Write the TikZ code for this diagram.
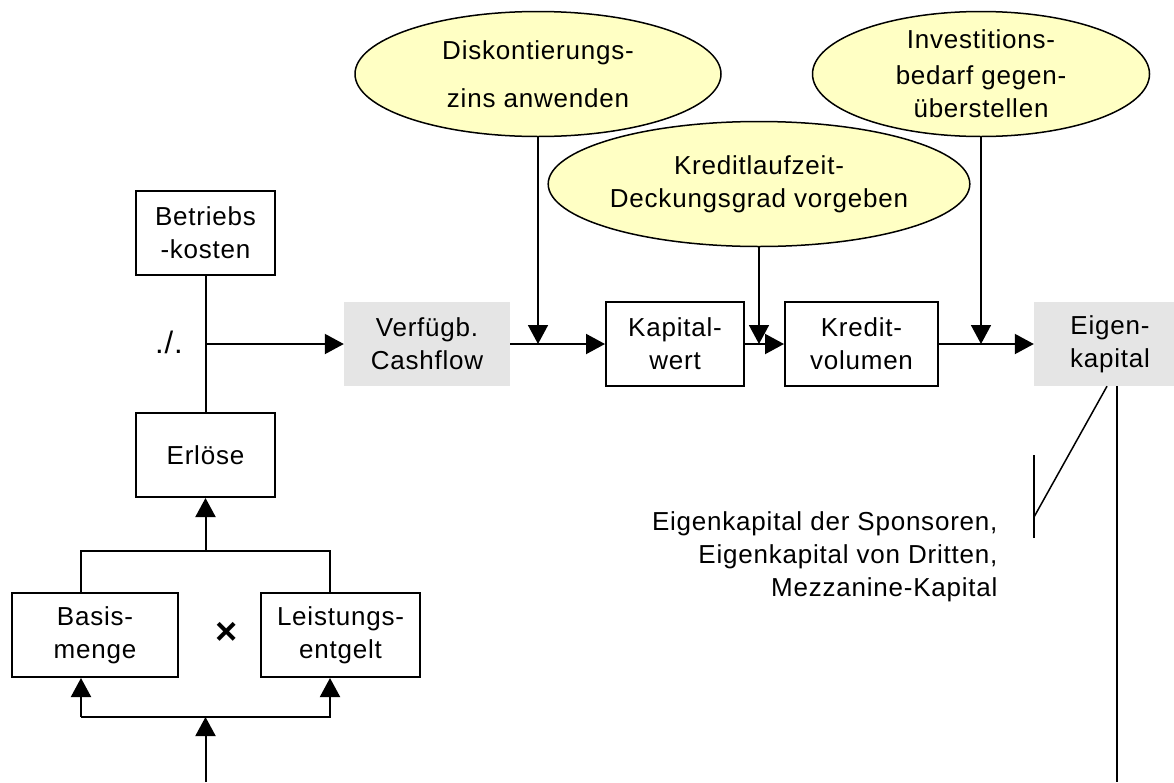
\documentclass[tikz,border=0pt]{standalone}
\usepackage{fontspec}
\setmainfont[LetterSpace=3]{Liberation Sans}
\usetikzlibrary{shapes.geometric,arrows.meta}
\definecolor{paleyellow}{HTML}{FFFFC4}

\begin{document}
\begin{tikzpicture}[x=1pt,y=-1pt,
    font=\fontsize{26}{33}\selectfont,
    box/.style={draw,line width=2pt,align=center,inner sep=0pt,minimum height=84pt},
    graybox/.style={fill=gray!20,align=center,inner sep=0pt,minimum height=84pt},
    oval/.style={ellipse,draw,line width=1.5pt,fill=paleyellow,align=center,inner sep=0pt,minimum height=125pt},
    arr/.style={line width=2pt,-{Triangle[length=19pt,width=20pt]}},
    thinarr/.style={line width=1.6pt,-{Triangle[length=19pt,width=20pt]}}]
    \useasboundingbox (0,0) rectangle (1174,782);
    \clip (0,0) rectangle (1174,782);
    % Define the boxes of the left column
    \node[box,minimum width=139pt] (kosten) at (205.5,233) {Betriebs\\-kosten};
    \node[box,minimum width=139pt] (erloese) at (205.5,455) {Erlöse};
    \node[box,minimum width=166pt] (basis) at (95,635) {Basis-\\menge};
    \node[box,minimum width=159pt] (entgelt) at (340.5,635) {Leistungs-\\entgelt};
    \node[font=\fontsize{38}{38}\selectfont\bfseries] (mal) at (227,633) {×};
    \node[font=\fontsize{31}{31}\selectfont] (minus) at (169,342) {./.};
    % Define the boxes of the main row
    \node[graybox,minimum width=166pt] (cashflow) at (427,344) {Verfügb.\\Cashflow};
    \node[box,minimum width=138pt] (kapwert) at (675,344) {Kapital-\\wert};
    \node[box,minimum width=153pt] (kredit) at (861.5,344) {Kredit-\\volumen};
    \node[graybox,minimum width=152pt] (eigen) at (1110,344) {Eigen-\\kapital};
    % Define the ovals
    \node[oval,minimum width=366pt] (zins) at (538,74) {Diskontierungs-\\[15pt]zins anwenden};
    \node[oval,minimum width=337pt] (laufzeit) at (759,184) {Kreditlaufzeit-\\Deckungsgrad vorgeben};
    \node[oval,minimum width=337pt] (bedarf) at (981,74) {\raisebox{3pt}{Investitions-}\\bedarf gegen-\\überstellen};
    \node[align=right,anchor=east] (quellen) at (1001,557) {Eigenkapital der Sponsoren,\\Eigenkapital von Dritten,\\Mezzanine-Kapital};
    % Define the helper points
    \coordinate (bl) at (81,551);
    \coordinate (br) at (330,551);
    \coordinate (ul) at (81,717);
    \coordinate (ur) at (330,717);
    \coordinate (ein) at (205.5,782);
    \coordinate (aus) at (1117,782);
    \coordinate (klammer) at (1034,517);
    % Draw the left column
    \draw[line width=2pt] (kosten) -- (erloese);
    \draw[arr] (kosten.south |- cashflow.west) -- (cashflow.west);
    \draw[line width=2pt] (bl |- basis.north) -- (bl) -- (br) -- (br |- entgelt.north);
    \draw[arr] (erloese.south |- bl) -- (erloese.south);
    \draw[arr] (ul) -- (ul |- basis.south);
    \draw[arr] (ul) -- (ur) -- (ur |- entgelt.south);
    \draw[arr] (ein) -- (ein |- ul);
    % Draw the main row
    \draw[arr] (cashflow.east) -- (kapwert.west);
    \draw[arr] (kapwert.east) -- (kredit.west);
    \draw[arr] (kredit.east) -- (eigen.west);
    \draw[thinarr] (zins.south) -- (zins.south |- cashflow.east);
    \draw[thinarr] (laufzeit.south) -- (laufzeit.south |- kapwert.east);
    \draw[thinarr] (bedarf.south) -- (bedarf.south |- kredit.east);
    % Draw the equity lines
    \draw[line width=1.5pt] ([xshift=-3pt]eigen.south) -- (klammer);
    \draw[line width=1.5pt] ([yshift=-21pt]klammer) -- ([yshift=62pt]klammer);
    \draw[line width=2pt] (eigen.south -| aus) -- (aus);
\end{tikzpicture}
\end{document}
